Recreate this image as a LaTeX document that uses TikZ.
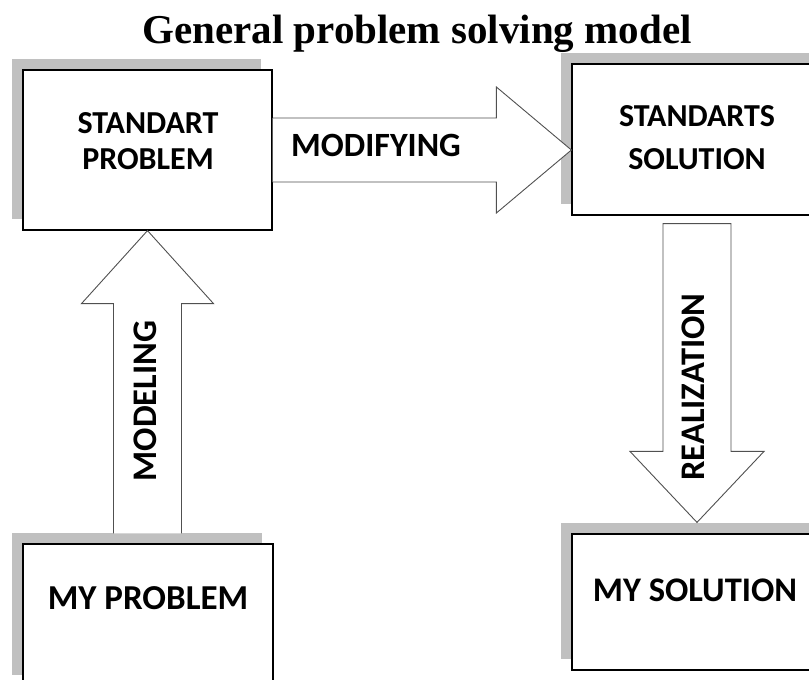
\documentclass[tikz,border=0pt]{standalone}
\usepackage{fontspec}
\setmainfont{Liberation Serif}
\newfontfamily\boxfont{Carlito}
\usetikzlibrary{calc,shadows}

\begin{document}
\begin{tikzpicture}[x=1pt, y=-1pt,
  box/.style={draw=black, line width=1.2pt, fill=white, inner sep=0pt, minimum width=250pt,
    drop shadow={shadow xshift=-11pt, shadow yshift=11pt, opacity=1, fill=shadowgray}},
  boxtext/.style={font=\boxfont\bfseries\fontsize{#1}{#1}\selectfont, align=center, inner sep=0pt},
  blockarrow/.style={draw=arrowgray, line width=0.9pt, fill=white}]
\definecolor{shadowgray}{HTML}{C0C0C0}
\definecolor{arrowgray}{HTML}{505050}
\useasboundingbox (0,0) rectangle (809,680);
\node[font=\bfseries\fontsize{41}{48}\selectfont, anchor=base] (title) at (417,43) {General problem solving model};
\node[box, minimum width=249pt, minimum height=160pt] (sp) at (147.5,150) {};
\node[box, minimum height=151pt] (ss) at (697,139.5) {};
\node[box, minimum height=142pt] (mp) at (148,615) {};
\node[box, minimum height=136pt] (ms) at (697,602) {};
\node[boxtext=32, anchor=north] (sptext) at (148,112) {STANDART\\[4pt]PROBLEM};
\node[boxtext=32, anchor=north] (sstext) at (697,105) {STANDARTS\\[11pt]SOLUTION};
\node[boxtext=35] (mptext) at (148,598) {MY PROBLEM};
\node[boxtext=34.5] (mstext) at (695,590) {MY SOLUTION};
\filldraw[blockarrow] ($(sp.east)+(0,-32)$) -- ($(ss.west |- sp.east)+(-75,-32)$) -- ++(0,-31)
  -- (ss.west |- sp.east) -- ++(-75,63) -- ++(0,-31) -- ($(sp.east)+(0,32)$);
\filldraw[blockarrow] ($(sp.south |- mp.north)+(-34,-10)$) -- ($(sp.south)+(-34,73)$) -- ++(-32,0)
  -- (sp.south) -- ++(66,73) -- ++(-32,0) -- ($(sp.south |- mp.north)+(34,-10)$);
\filldraw[blockarrow] ($(ss.south)+(-34,8)$) -- ($(ms.north)+(-34,-82)$) -- ++(-33,0)
  -- ($(ms.north)+(0,-11)$) -- ++(67,-71) -- ++(-33,0) -- ($(ss.south)+(34,8)$) -- cycle;
\node[boxtext=34] (modifying) at (376,145) {MODIFYING};
\node[boxtext=34.5, rotate=90] (modeling) at (145,401) {MODELING};
\node[boxtext=34.5, rotate=90] (realization) at (693,387) {REALIZATION};
\end{tikzpicture}
\end{document}
